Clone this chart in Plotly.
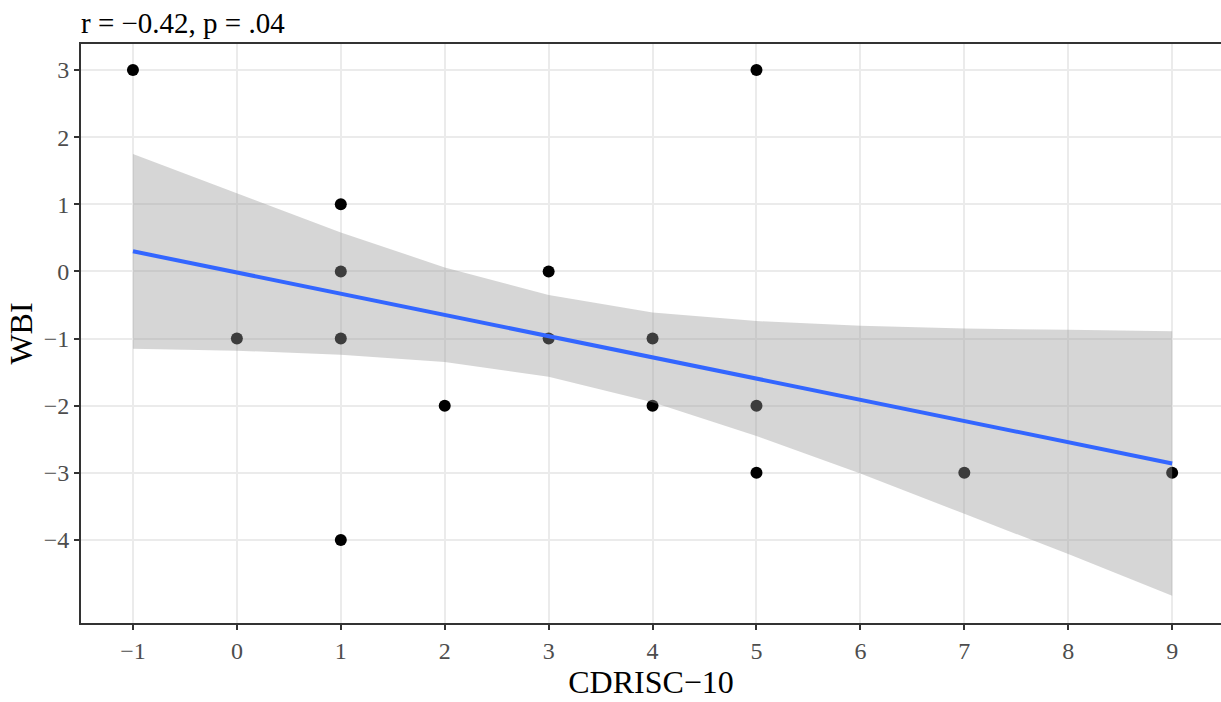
import plotly.graph_objects as go

# Observations: CDRISC-10 change vs WBI change
cdrisc = [-1, 0, 1, 1, 1, 1, 2, 3, 3, 4, 4, 5, 5, 5, 7, 9]
wbi = [3, -1, 1, 0, -1, -4, -2, 0, -1, -1, -2, 3, -2, -3, -3, -3]

# Linear fit and its 95% confidence band, evaluated at each integer score
fit_x = [-1, 0, 1, 2, 3, 4, 5, 6, 7, 8, 9]
fit_y = [0.30, -0.01, -0.33, -0.65, -0.96, -1.28, -1.59, -1.91, -2.23, -2.54, -2.86]
band_upper = [1.75, 1.16, 0.58, 0.06, -0.35, -0.61, -0.74, -0.81, -0.85, -0.87, -0.89]
band_lower = [-1.15, -1.18, -1.24, -1.35, -1.57, -1.95, -2.45, -3.01, -3.61, -4.21, -4.83]

x_ticks = list(range(-1, 10))
y_ticks = [3, 2, 1, 0, -1, -2, -3, -4]


def minus(v):
    return str(v).replace("-", "\u2212")


fig = go.Figure()

fig.add_trace(go.Scatter(
    x=cdrisc, y=wbi, mode="markers",
    marker=dict(color="black", size=12, line=dict(width=0)),
    hoverinfo="skip", showlegend=False,
))

fig.add_trace(go.Scatter(
    x=fit_x + fit_x[::-1], y=band_upper + band_lower[::-1],
    mode="lines", fill="toself", fillcolor="rgba(153,153,153,0.4)",
    line=dict(width=0), hoverinfo="skip", showlegend=False,
))

fig.add_trace(go.Scatter(
    x=[fit_x[0], fit_x[-1]], y=[fit_y[0], fit_y[-1]], mode="lines",
    line=dict(color="#3366FF", width=4),
    hoverinfo="skip", showlegend=False,
))

font_family = "Liberation Serif"

fig.update_layout(
    width=1221, height=702,
    margin=dict(l=81, r=0, t=44, b=79),
    paper_bgcolor="white", plot_bgcolor="white",
    font=dict(family=font_family, color="black"),
    annotations=[dict(
        text="r = \u22120.42, p = .04", x=0, y=1, xref="paper", yref="paper",
        xanchor="left", yanchor="bottom", yshift=3, xshift=-2, showarrow=False,
        font=dict(family=font_family, size=29, color="black"),
    )],
)

fig.update_xaxes(
    range=[-1.5, 9.47], tickvals=x_ticks, ticktext=[minus(v) for v in x_ticks],
    showgrid=True, gridcolor="#EBEBEB", gridwidth=2, zeroline=False,
    showline=True, linecolor="#333333", linewidth=2, mirror=True,
    ticks="outside", ticklen=5, tickwidth=2, tickcolor="#333333",
    tickfont=dict(family=font_family, size=24, color="#4D4D4D"),
    title=dict(text="CDRISC\u221210", font=dict(family=font_family, size=32, color="black"), standoff=5),
)

fig.update_yaxes(
    range=[-5.236, 3.387], tickvals=y_ticks, ticktext=[minus(v) for v in y_ticks],
    showgrid=True, gridcolor="#EBEBEB", gridwidth=2, zeroline=False,
    showline=True, linecolor="#333333", linewidth=2,
    ticks="outside", ticklen=5, tickwidth=2, tickcolor="#333333",
    tickfont=dict(family=font_family, size=24, color="#4D4D4D"),
    title=dict(text="WBI", font=dict(family=font_family, size=32, color="black"), standoff=1),
)

fig.write_html("out.html")
